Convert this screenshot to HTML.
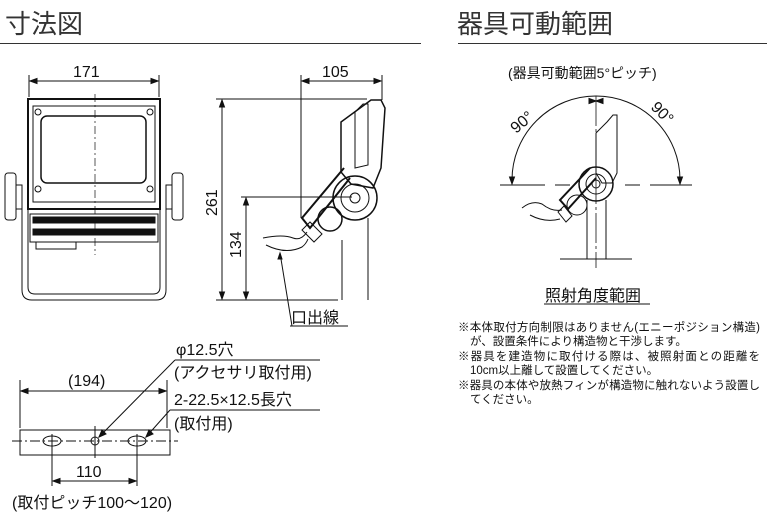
<!DOCTYPE html>
<html><head><meta charset="utf-8"><style>
body{margin:0;background:#fff}
svg{display:block;font-family:"Liberation Sans","Noto Sans CJK JP",sans-serif}
</style></head><body>
<svg width="767" height="513" viewBox="0 0 767 513" xmlns="http://www.w3.org/2000/svg">
<g fill="#333" font-size="26"><text x="5" y="33">寸法図</text><text x="457" y="33">器具可動範囲</text></g>
<line x1="0" y1="43.5" x2="421" y2="43.5" stroke="#333"/>
<line x1="458" y1="43.5" x2="767" y2="43.5" stroke="#333"/>
<g stroke="#111" fill="none" stroke-width="1">
<!-- front view -->
<line x1="29" y1="75" x2="29" y2="97"/><line x1="159" y1="75" x2="159" y2="97"/>
<line x1="30" y1="81" x2="158" y2="81"/>
<path d="M30 81l7-2.5v5zM158 81l-7-2.5v5z" fill="#111"/>
<rect x="28" y="99" width="132" height="110" stroke-width="2"/>
<rect x="33" y="106" width="122" height="96"/>
<rect x="41" y="116" width="105" height="67" rx="6" stroke-width="1.5"/>
<circle cx="38" cy="112" r="3"/><circle cx="150" cy="112" r="3"/><circle cx="38" cy="189" r="3"/><circle cx="150" cy="189" r="3"/>
<rect x="5" y="173" width="11" height="47" rx="3"/><rect x="172" y="173" width="11" height="47" rx="3"/>
<rect x="16" y="185" width="6" height="24"/><rect x="166" y="185" width="6" height="24"/>
<rect x="30" y="214" width="128" height="28"/>
<rect x="33" y="217" width="122" height="6" fill="#111"/><rect x="33" y="229" width="122" height="6" fill="#111"/>
<rect x="36" y="242" width="40" height="7"/>
<path d="M22 209V290q0 10 10 10H156q10 0 10-10V209"/>
<path d="M28 209V287q0 7 7 7H153q7 0 7-7V209"/>
<line x1="95" y1="94" x2="95" y2="255" stroke-dasharray="8 3 2 3" stroke-width=".7"/>
<!-- side view -->
<line x1="301" y1="75" x2="301" y2="218"/><line x1="382" y1="75" x2="382" y2="100"/>
<line x1="302" y1="81" x2="381" y2="81"/><path d="M302 81l7-2.5v5zM381 81l-7-2.5v5z" fill="#111"/>
<line x1="216" y1="99" x2="367" y2="99"/><line x1="216" y1="300" x2="338" y2="300"/>
<line x1="222" y1="100" x2="222" y2="299"/><path d="M222 100l-2.5 7h5zM222 299l-2.5-7h5z" fill="#111"/>
<line x1="241" y1="197" x2="352" y2="197"/>
<line x1="246" y1="198" x2="246" y2="299"/><path d="M246 198l-2.5 7h5zM246 299l-2.5-7h5z" fill="#111"/>
<path d="M371 100l10 0 4 8-4 60-8 20-22 -4-10-12 0-50z" stroke-width="1.5"/>
<path d="M355 112 L363 104 L368 104 L368 165 L355 168z"/>
<circle cx="355" cy="198" r="22" stroke-width="1.5"/><circle cx="355" cy="198" r="14"/><circle cx="355" cy="198" r="5"/>
<path d="M344 168 L302 218 L310 228 L350 178" stroke-width="2"/>
<circle cx="330" cy="219" r="12" stroke-width="1.5"/>
<path d="M302 230l12 12 8-8-12-12z"/>
<line x1="342" y1="240" x2="342" y2="300"/><line x1="368" y1="218" x2="368" y2="300"/>
<path d="M263 238q20 -4 30 0 q8 3 14 -6"/><path d="M266 245q20 10 36 2 q4 -3 6 -8"/>
<path d="M280 253L292 326"/><path d="M280 253l-2 6 4 0z" fill="#111"/>
<line x1="290" y1="326" x2="348" y2="326"/>
<!-- range view -->
<line x1="500" y1="185" x2="545" y2="185"/><line x1="555" y1="185" x2="570" y2="185"/><line x1="625" y1="185" x2="640" y2="185"/><line x1="650" y1="185" x2="692" y2="185"/>
<line x1="596" y1="96" x2="596" y2="268" stroke-dasharray="30 3 3 3" stroke-width=".8"/>
<path d="M512 180A84 84 0 0 1 680 180"/>
<path d="M512 184l-2.5-7h5zM680 184l-2.5-7h5zM596 101l-7-2.5v5zM596 101l7-2.5v5z" fill="#111"/>
<path d="M607 122l6-7 4 0 0 58-5 10-10 0-6-10 0-40z"/>
<circle cx="596" cy="184" r="17" stroke-width="1.5"/><circle cx="596" cy="184" r="10"/><circle cx="596" cy="184" r="4"/>
<path d="M590 168 L560 200 L568 209 L596 178" stroke-width="2"/>
<circle cx="577" cy="205" r="10"/>
<path d="M558 212l8 10 6-6-8-10z"/>
<path d="M522 208q10-8 20 -4 q10 8 20 6"/><path d="M530 215q15 8 30 4"/>
<line x1="587" y1="200" x2="587" y2="259"/><line x1="606" y1="200" x2="606" y2="259"/>
<line x1="560" y1="259" x2="632" y2="259"/>
<line x1="544" y1="304" x2="650" y2="304"/>
<!-- plate -->
<line x1="20" y1="380" x2="20" y2="428"/><line x1="167" y1="380" x2="167" y2="428"/>
<line x1="21" y1="391" x2="166" y2="391"/><path d="M21 391l7-2.5v5zM166 391l-7-2.5v5z" fill="#111"/>
<rect x="20" y="430" width="150" height="25"/>
<line x1="12" y1="441" x2="178" y2="441" stroke-dasharray="10 3 2 3"/>
<ellipse cx="52" cy="441" rx="9" ry="5"/><circle cx="95" cy="441" r="4"/><ellipse cx="137" cy="441" rx="9" ry="5"/>
<line x1="95" y1="426" x2="95" y2="458"/><line x1="52" y1="434" x2="52" y2="486"/><line x1="137" y1="434" x2="137" y2="486"/>
<line x1="53" y1="481" x2="136" y2="481"/><path d="M53 481l7-2.5v5zM136 481l-7-2.5v5z" fill="#111"/>
<line x1="175" y1="360" x2="320" y2="360"/><line x1="175" y1="360" x2="99" y2="437"/><path d="M99 437l3-7 4 4z" fill="#111"/>
<line x1="170" y1="410" x2="320" y2="410"/><line x1="170" y1="410" x2="146" y2="437"/><path d="M146 437l3-7 4 4z" fill="#111"/>
</g>
<g fill="#111" font-size="16">
<text x="73" y="77">171</text><text x="322" y="77">105</text>
<text transform="translate(217,216) rotate(-90)">261</text>
<text transform="translate(241,258) rotate(-90)">134</text>
<text x="291" y="323">口出線</text>
<text x="508" y="78" font-size="14">(器具可動範囲5°ピッチ)</text>
<text transform="translate(516,134) rotate(-40)">90°</text>
<text transform="translate(650,108) rotate(45)">90°</text>
<text x="545" y="301">照射角度範囲</text>
<text x="68" y="386">(194)</text><text x="76" y="477">110</text>
<text x="12" y="508">(取付ピッチ100～120)</text>
<text x="176" y="355">φ12.5穴</text><text x="174" y="378">(アクセサリ取付用)</text>
<text x="174" y="405">2-22.5×12.5長穴</text><text x="174" y="429">(取付用)</text>
</g>
<g fill="#111" font-size="11.5">
<text x="458" y="331" textLength="302">※本体取付方向制限はありません(エニーポジション構造)</text>
<text x="470" y="345">が、設置条件により構造物と干渉します。</text>
<text x="458" y="360" textLength="302">※器具を建造物に取付ける際は、被照射面との距離を</text>
<text x="470" y="374">10cm以上離して設置してください。</text>
<text x="458" y="389" textLength="302">※器具の本体や放熱フィンが構造物に触れないよう設置し</text>
<text x="470" y="403">てください。</text>
</g>
</svg>
</body></html>
